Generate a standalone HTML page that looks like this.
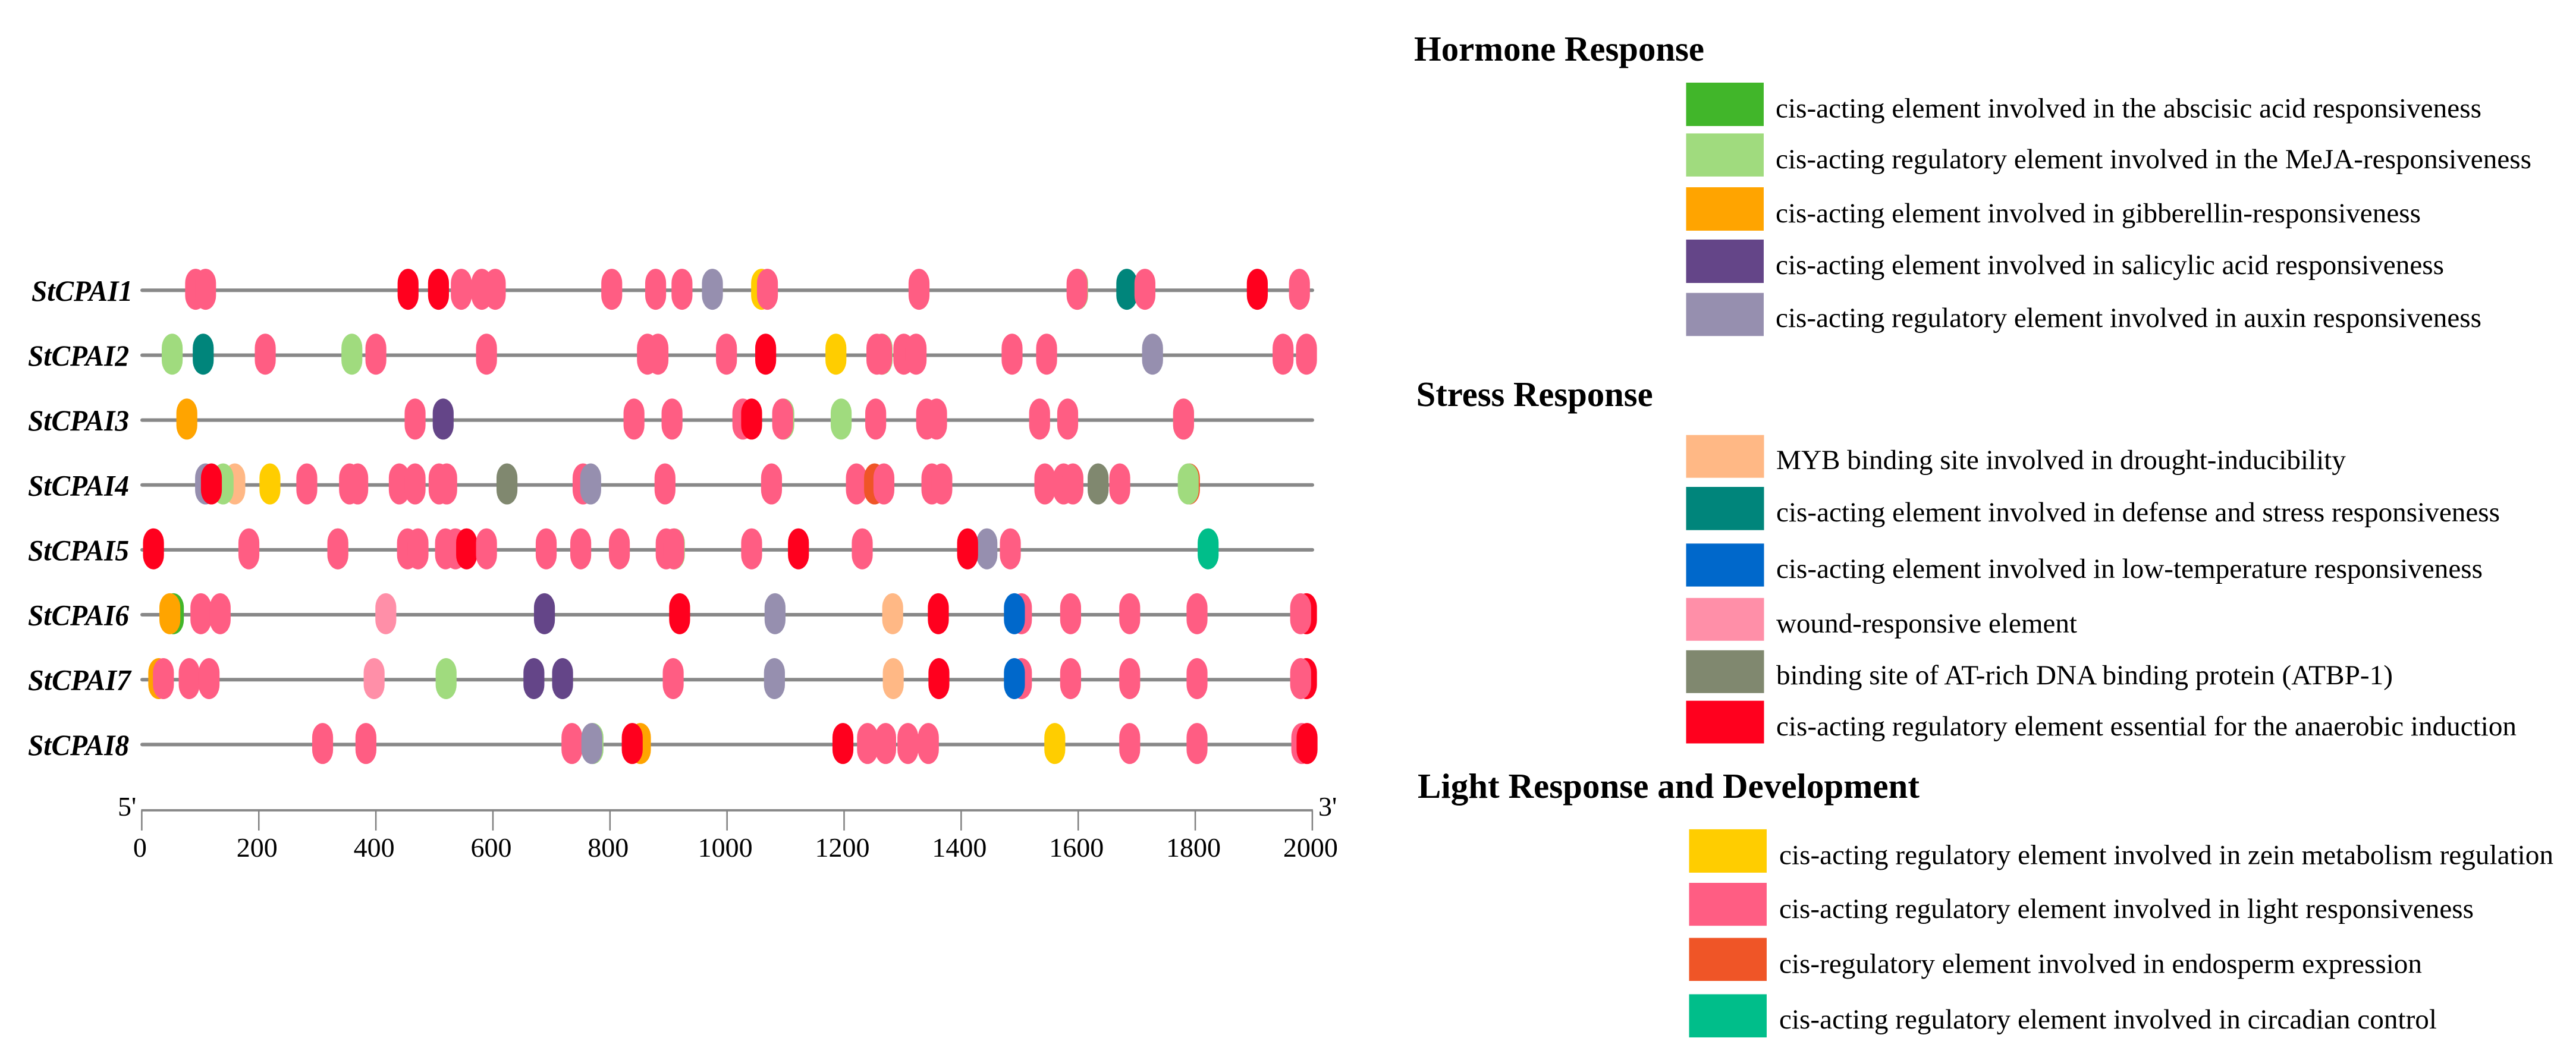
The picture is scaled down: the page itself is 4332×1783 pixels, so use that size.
<!DOCTYPE html>
<html lang="en">
<head>
<meta charset="utf-8">
<title>StCPAI promoter cis-acting elements</title>
<style>
html,body{margin:0;padding:0;background:#fff;}
svg{display:block;}
text{font-family:"Liberation Serif","Times New Roman",serif;fill:#000;}
.title{font-size:59px;font-weight:bold;}
.item{font-size:47px;}
.gene{font-size:50px;font-weight:bold;font-style:italic;}
.tick{font-size:46px;}
</style>
</head>
<body>
<svg id="chart" xmlns="http://www.w3.org/2000/svg" width="4332" height="1783" viewBox="0 0 4332 1783">
<rect x="0" y="0" width="4332" height="1783" fill="#ffffff"/>
<g id="plot"></g>
<g>
<text class="title" x="2378" y="102" textLength="488" lengthAdjust="spacingAndGlyphs">Hormone Response</text>
<g><rect x="2835.5" y="139" width="130.5" height="73" fill="#41b62a"/><text class="item" x="2986" y="197.6" textLength="1187" lengthAdjust="spacingAndGlyphs">cis-acting element involved in the abscisic acid responsiveness</text></g>
<g><rect x="2835.5" y="224.4" width="130.5" height="72.5" fill="#a0db7e"/><text class="item" x="2986" y="283" textLength="1271" lengthAdjust="spacingAndGlyphs">cis-acting regulatory element involved in the MeJA-responsiveness</text></g>
<g><rect x="2835.5" y="315" width="130.5" height="73" fill="#ffa400"/><text class="item" x="2986" y="374" textLength="1085" lengthAdjust="spacingAndGlyphs">cis-acting element involved in gibberellin-responsiveness</text></g>
<g><rect x="2835.5" y="403" width="130.5" height="73" fill="#644588"/><text class="item" x="2986" y="461" textLength="1124" lengthAdjust="spacingAndGlyphs">cis-acting element involved in salicylic acid responsiveness</text></g>
<g><rect x="2835.5" y="492.7" width="130.5" height="72.5" fill="#968faf"/><text class="item" x="2986" y="550" textLength="1187" lengthAdjust="spacingAndGlyphs">cis-acting regulatory element involved in auxin responsiveness</text></g>

<text class="title" x="2381.6" y="683" textLength="398" lengthAdjust="spacingAndGlyphs">Stress Response</text>
<g><rect x="2835.5" y="731.7" width="131" height="72" fill="#ffb885"/><text class="item" x="2987" y="789" textLength="958" lengthAdjust="spacingAndGlyphs">MYB binding site involved in drought-inducibility</text></g>
<g><rect x="2835.5" y="819" width="131" height="72.7" fill="#00857b"/><text class="item" x="2987" y="877" textLength="1217" lengthAdjust="spacingAndGlyphs">cis-acting element involved in defense and stress responsiveness</text></g>
<g><rect x="2835.5" y="914.3" width="131" height="72.3" fill="#0068cb"/><text class="item" x="2987" y="972" textLength="1188" lengthAdjust="spacingAndGlyphs">cis-acting element involved in low-temperature responsiveness</text></g>
<g><rect x="2835.5" y="1005.8" width="131" height="72" fill="#ff8fa8"/><text class="item" x="2987" y="1064" textLength="506" lengthAdjust="spacingAndGlyphs">wound-responsive element</text></g>
<g><rect x="2835.5" y="1093.8" width="131" height="72" fill="#80886f"/><text class="item" x="2987" y="1151" textLength="1037" lengthAdjust="spacingAndGlyphs">binding site of AT-rich DNA binding protein (ATBP-1)</text></g>
<g><rect x="2835.5" y="1178.7" width="131" height="71.8" fill="#ff001e"/><text class="item" x="2987" y="1237" textLength="1245" lengthAdjust="spacingAndGlyphs">cis-acting regulatory element essential for the anaerobic induction</text></g>

<text class="title" x="2384" y="1342" textLength="844" lengthAdjust="spacingAndGlyphs">Light Response and Development</text>
<g><rect x="2840.5" y="1394.9" width="130.5" height="73" fill="#ffcd00"/><text class="item" x="2992" y="1453.4" textLength="1302" lengthAdjust="spacingAndGlyphs">cis-acting regulatory element involved in zein metabolism regulation</text></g>
<g><rect x="2840.5" y="1485" width="130.5" height="72.2" fill="#ff5d83"/><text class="item" x="2992" y="1544" textLength="1168" lengthAdjust="spacingAndGlyphs">cis-acting regulatory element involved in light responsiveness</text></g>
<g><rect x="2840.5" y="1577.6" width="130.5" height="72.4" fill="#ef5527"/><text class="item" x="2992" y="1636.5" textLength="1081" lengthAdjust="spacingAndGlyphs">cis-regulatory element involved in endosperm expression</text></g>
<g><rect x="2840.5" y="1672.4" width="130.5" height="72.6" fill="#00be8a"/><text class="item" x="2992" y="1730" textLength="1106" lengthAdjust="spacingAndGlyphs">cis-acting regulatory element involved in circadian control</text></g>
</g>
</svg>
<script>
const geneNames = ["StCPAI1","StCPAI2","StCPAI3","StCPAI4","StCPAI5","StCPAI6","StCPAI7","StCPAI8"];
const axisTicks = [0,200,400,600,800,1000,1200,1400,1600,1800,2000];
const axisMax = 2000;
const sitesStCPAI1 = [["light",92],["light",109],["anaerobic",455],["anaerobic",507],["light",546],["light",581],["light",604],["light",803],["light",878],["light",923],["auxin",975],["zein",1059],["light",1069],["light",1328],["meja",1599],["light",1598],["defense",1683],["light",1714],["anaerobic",1906],["light",1978]];
const sitesStCPAI2 = [["meja",52],["defense",105],["light",211],["meja",359],["light",400],["light",589],["light",864],["light",882],["light",999],["anaerobic",1066],["zein",1186],["meja",1265],["light",1256],["light",1264],["light",1302],["light",1323],["light",1487],["light",1546],["auxin",1727],["light",1950],["light",1990]];
const sitesStCPAI3 = [["ga",77],["light",467],["sa",515],["light",841],["light",906],["light",1027],["anaerobic",1042],["meja",1097],["light",1095],["meja",1195],["light",1254],["light",1341],["light",1358],["light",1534],["light",1582],["meja",1780],["light",1780]];
const sitesStCPAI4 = [["auxin",109],["myb",159],["meja",139],["anaerobic",119],["zein",219],["light",282],["light",355],["light",369],["light",440],["light",467],["light",508],["light",521],["atbp",624],["light",754],["auxin",767],["light",894],["light",1076],["light",1221],["endosperm",1252],["light",1268],["light",1350],["light",1367],["light",1543],["light",1575],["light",1591],["atbp",1634],["light",1671],["endosperm",1790],["meja",1788]];
const sitesStCPAI5 = [["anaerobic",20],["light",183],["meja",335],["light",335],["light",454],["light",472],["light",519],["light",536],["anaerobic",555],["light",589],["light",691],["light",750],["light",816],["meja",910],["light",896],["light",909],["light",1042],["anaerobic",1122],["light",1231],["auxin",1444],["anaerobic",1411],["light",1484],["circadian",1822]];
const sitesStCPAI6 = [["aba",54],["ga",48],["light",101],["light",134],["wound",417],["sa",688],["anaerobic",919],["auxin",1082],["myb",1283],["anaerobic",1361],["light",1503],["lowtemp",1491],["light",1587],["light",1688],["light",1803],["anaerobic",1990],["light",1980]];
const sitesStCPAI7 = [["ga",29],["light",37],["light",81],["light",115],["wound",397],["meja",520],["sa",670],["sa",719],["light",908],["auxin",1081],["myb",1284],["anaerobic",1362],["light",1503],["lowtemp",1491],["light",1587],["light",1688],["light",1803],["anaerobic",1990],["light",1980]];
const sitesStCPAI8 = [["light",309],["light",383],["meja",771],["light",735],["auxin",769],["ga",852],["anaerobic",838],["anaerobic",1198],["light",1240],["light",1271],["light",1309],["light",1344],["zein",1560],["light",1688],["light",1803],["light",1982],["anaerobic",1991]];
const geneSites = [sitesStCPAI1,sitesStCPAI2,sitesStCPAI3,sitesStCPAI4,sitesStCPAI5,sitesStCPAI6,sitesStCPAI7,sitesStCPAI8];
const elementColors = {aba:"#41b62a",meja:"#a0db7e",ga:"#ffa400",sa:"#644588",auxin:"#968faf",myb:"#ffb885",defense:"#00857b",lowtemp:"#0068cb",wound:"#ff8fa8",atbp:"#80886f",anaerobic:"#ff001e",zein:"#ffcd00",light:"#ff5d83",endosperm:"#ef5527",circadian:"#00be8a"};

const NS = "http://www.w3.org/2000/svg";
const plot = document.getElementById("plot");
function xScale(v){ return 238.4 + (v / axisMax) * 1968.5; }
function rowY(i){ return 488.3 + 109.15 * i; }
function make(tag, attrs, parent){
  const n = document.createElementNS(NS, tag);
  for (const k in attrs) n.setAttribute(k, attrs[k]);
  parent.appendChild(n);
  return n;
}

geneNames.forEach(function(name, i){
  const y = rowY(i);
  const row = make("g", {}, plot);
  
  
  const label = make("text", {x: i === 0 ? 53 : 47, y: y + 17.5, "class": "gene", textLength: i === 6 ? 173 : 170, lengthAdjust: "spacingAndGlyphs"}, row);
  
  
  label.textContent = name;
  const line = make("line", {x1: 239, x2: 2207, y1: y, y2: y, stroke: "#888888", "stroke-width": 6, "stroke-linecap": "round"}, row);
  
  
  geneSites[i].forEach(function(site){
    const cx = xScale(site[1]);
    const mark = make("rect", {x: cx - 17.6, y: y - 36.2, width: 35.2, height: 69, rx: 17.6, ry: 24, fill: elementColors[site[0]]}, row);
    
    
  });
});

const axis = make("g", {}, plot);


const axisY = 1363;
const axisLine = make("line", {x1: xScale(0) - 1, x2: xScale(axisMax) + 1, y1: axisY, y2: axisY, stroke: "#8a8a8a", "stroke-width": 4}, axis);


axisTicks.forEach(function(t){
  const tx = xScale(t);
  const tick = make("line", {x1: tx, x2: tx, y1: axisY, y2: 1397, stroke: "#808080", "stroke-width": 2.5}, axis);
  
  
  const lab = make("text", {x: tx - 3, y: 1441, "text-anchor": "middle", "class": "tick"}, axis);
  
  
  lab.textContent = String(t);
});
const fivePrime = make("text", {x: 198, y: 1372, "class": "tick"}, axis);


fivePrime.textContent = "5'";
const threePrime = make("text", {x: 2217, y: 1372, "class": "tick"}, axis);


threePrime.textContent = "3'";
</script>
</body>
</html>
